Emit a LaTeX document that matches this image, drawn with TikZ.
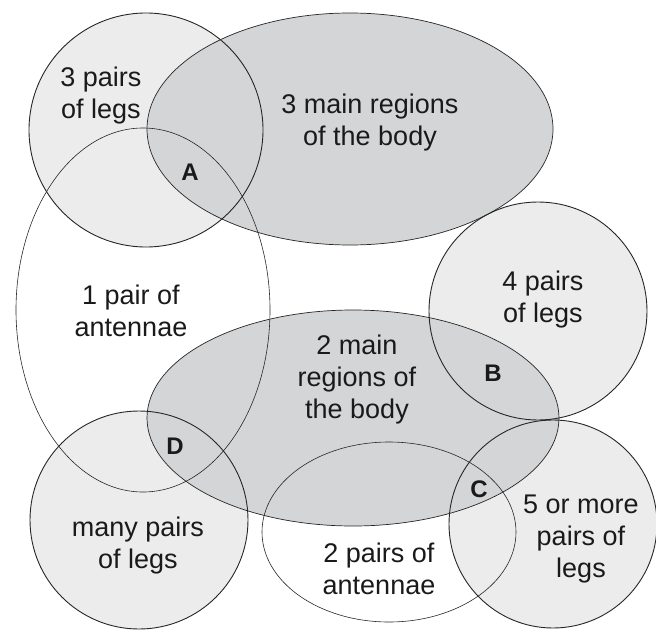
\documentclass[tikz,border=0pt]{standalone}
\usepackage{fontspec}
\setmainfont{Liberation Sans}
\definecolor{lightfill}{HTML}{ECECEC}
\definecolor{darkfill}{HTML}{D4D5D7}
\definecolor{inkline}{HTML}{262626}
\definecolor{inktext}{HTML}{1A1A1A}
\begin{document}
\begin{tikzpicture}[x=1pt,y=-1pt,
  lbl/.style={font=\fontsize{27}{32}\selectfont, align=center, inner sep=0pt, text=inktext},
  letter/.style={font=\fontsize{24}{28}\selectfont\bfseries, inner sep=0pt, text=inktext},
  ring/.style={draw=inkline, line width=0.9pt},
  oval/.style={draw=inkline, line width=0.7pt},
  thinoval/.style={draw=inkline, line width=0.6pt}]
\useasboundingbox (0,0) rectangle (656,634);
\clip (0,0) rectangle (656,634);
% centres
\coordinate (cLegsThree) at (146,130);
\coordinate (cMainThree) at (350,129);
\coordinate (cAntOne) at (143,310);
\coordinate (cLegsFour) at (538,311);
\coordinate (cMainTwo) at (353,418);
\coordinate (cMany) at (139,520);
\coordinate (cAntTwo) at (389,532);
\coordinate (cLegsFive) at (553,524);
% fills: circles light, then body ellipses dark
\fill[lightfill] (cLegsThree) circle [radius=117pt];
\fill[lightfill] (cLegsFour) circle [radius=109pt];
\fill[lightfill] (cMany) circle [radius=109pt];
\fill[lightfill] (cLegsFive) circle [radius=104pt];
\fill[darkfill] (cMainThree) ellipse [x radius=203pt, y radius=116pt];
\fill[darkfill] (cMainTwo) ellipse [x radius=206pt, y radius=108pt];
% outlines
\draw[ring] (cLegsThree) circle [radius=117pt];
\draw[ring] (cLegsFour) circle [radius=109pt];
\draw[ring] (cMany) circle [radius=109pt];
\draw[ring] (cLegsFive) circle [radius=104pt];
\draw[oval] (cMainThree) ellipse [x radius=203pt, y radius=116pt];
\draw[oval] (cMainTwo) ellipse [x radius=206pt, y radius=108pt];
\draw[thinoval] (cAntOne) ellipse [x radius=127pt, y radius=182pt];
\draw[thinoval] (cAntTwo) ellipse [x radius=127pt, y radius=90pt];
% labels
\node[lbl] (tLegsThree) at (101,95.9) {3 pairs\\of legs};
\node[lbl] (tMainThree) at (370,123) {3 main regions\\of the body};
\node[lbl] (tAntOne) at (131,311.3) {1 pair of\\antennae};
\node[lbl] (tLegsFour) at (543,299.2) {4 pairs\\of legs};
\node[lbl] (tMainTwo) at (357,379.5) {2 main\\regions of\\the body};
\node[lbl] (tMany) at (138,545.2) {many pairs\\of legs};
\node[lbl] (tAntTwo) at (379,568.4) {2 pairs of\\antennae};
\node[lbl] (tLegsFive) at (581,539.2) {5 or more\\pairs of\\legs};
% region letters
\node[letter] (lA) at (190,172) {A};
\node[letter] (lB) at (493,373) {B};
\node[letter] (lC) at (479,489) {C};
\node[letter] (lD) at (175,446) {D};
\end{tikzpicture}
\end{document}
